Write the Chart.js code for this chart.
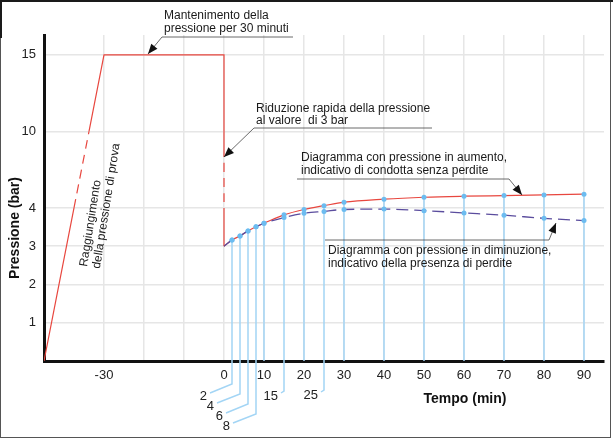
<!DOCTYPE html>
<html>
<head>
<meta charset="utf-8">
<script src="https://cdn.jsdelivr.net/npm/chart.js@4.4.0/dist/chart.umd.min.js"></script>
<style>
  html, body { margin: 0; padding: 0; background: #fff; overflow: hidden; }
  canvas { display: block; }
</style>
</head>
<body>
<canvas id="myChart" width="613" height="438"></canvas>
<script>
"use strict";

// time (min) and pressure (bar)
var times = [0, 2, 4, 6, 8, 10, 15, 20, 25, 30, 40, 50, 60, 70, 80, 90];
var pressureRising = [3, 3.16, 3.27, 3.40, 3.51, 3.60, 3.82, 3.96, 4.18, 4.45, 4.69, 4.84, 4.92, 4.97, 5.02, 5.08];
var pressureFalling = [3, 3.16, 3.27, 3.40, 3.51, 3.60, 3.75, 3.86, 3.91, 3.96, 3.97, 3.93, 3.87, 3.81, 3.73, 3.67];

// ramp to test pressure, 30 min hold, quick drop to 3 bar
var testTimes = [-45, -37.5, -33.75, -30, 0, 0, 0, 0];
var testPressure = [0, 4, 10, 15, 15, 8.7, 4, 3];

var xTickValues = [-30, -20, -10, 0, 10, 20, 30, 40, 50, 60, 70, 80, 90];
var yTickValues = [0, 1, 2, 3, 4, 10, 15];
var dropLabelTimes = [2, 4, 6, 8, 15, 25];

var FONT = "'Liberation Sans', Arial, sans-serif";

// the y axis is squeezed above 4 bar
function toAxis(p) {
  if (p <= 4) return p;
  if (p <= 10) return 4 + (p - 4) / 3;
  return 6 + (p - 10) / 2.5;
}

function pts(xs, ys) {
  return xs.map(function(x, i) { return {x: x, y: toAxis(ys[i]), p: ys[i]}; });
}

function arrowPath(ctx, path) {
  ctx.beginPath();
  ctx.moveTo(path[0][0], path[0][1]);
  for (var i = 1; i < path.length; i++) ctx.lineTo(path[i][0], path[i][1]);
  ctx.stroke();
  var a = path[path.length - 2], b = path[path.length - 1];
  var ang = Math.atan2(b[1] - a[1], b[0] - a[0]);
  ctx.save();
  ctx.translate(b[0], b[1]);
  ctx.rotate(ang);
  ctx.beginPath();
  ctx.moveTo(0, 0);
  ctx.lineTo(-10, -4);
  ctx.lineTo(-10, 4);
  ctx.closePath();
  ctx.fill();
  ctx.restore();
}

var notes = [
  {lines: ["Mantenimento della", "pressione per 30 minuti"], x: 164, y: 18.5, lh: 13,
   path: [[293, 37], [162, 37], [148, 54]]},
  {lines: ["Riduzione rapida della pressione", "al valore  di 3 bar"], x: 256, y: 112, lh: 12,
   path: [[432, 128], [254, 128], [224, 157]]},
  {lines: ["Diagramma con pressione in aumento,", "indicativo di condotta senza perdite"], x: 301, y: 161, lh: 13,
   path: [[297, 179], [509, 179], [522, 195]]},
  {lines: ["Diagramma con pressione in diminuzione,", "indicativo della presenza di perdite"], x: 328, y: 253.5, lh: 13,
   path: [[325, 240], [549, 240], [556, 223]]}
];

// leader offsets below the axis for the small time labels
var dropLeaders = {2: [23, -22, 9], 4: [33, -23, 9], 6: [43, -22, 9], 8: [53, -23, 9], 15: [30, -3, 2], 25: [29, -3, 2]};

var dropLines = {
  id: "dropLines",
  beforeDatasetsDraw: function(chart) {
    var ctx = chart.ctx, xs = chart.scales.x, ys = chart.scales.y;
    var y0 = ys.getPixelForValue(0);
    ctx.save();
    ctx.strokeStyle = "#a3d5f5";
    ctx.lineWidth = 1.5;
    times.forEach(function(t, i) {
      if (t === 0) return;
      var x = xs.getPixelForValue(t);
      var top = ys.getPixelForValue(toAxis(pressureRising[i]));
      var bottom = y0;
      var lead = dropLeaders[t];
      if (lead) bottom = y0 + lead[0];
      ctx.beginPath();
      ctx.moveTo(x, top);
      ctx.lineTo(x, bottom);
      if (lead) ctx.lineTo(x + lead[1], bottom + lead[2]);
      ctx.stroke();
    });
    ctx.restore();
  },
  afterDraw: function(chart) {
    var ctx = chart.ctx, xs = chart.scales.x, ys = chart.scales.y;
    var y0 = ys.getPixelForValue(0);
    ctx.save();
    ctx.fillStyle = "#222";
    ctx.font = "13px " + FONT;
    ctx.textAlign = "right";
    ctx.textBaseline = "middle";
    dropLabelTimes.forEach(function(t) {
      var lead = dropLeaders[t];
      var x = xs.getPixelForValue(t) + lead[1];
      var y = y0 + lead[0] + lead[2];
      ctx.fillText(String(t), x - 3, y + 3);
    });

    // annotations
    ctx.textAlign = "left";
    ctx.textBaseline = "alphabetic";
    ctx.font = "12px " + FONT;
    ctx.fillStyle = "#1a1a1a";
    ctx.strokeStyle = "#444";
    ctx.lineWidth = 0.8;
    notes.forEach(function(n) {
      n.lines.forEach(function(s, k) { ctx.fillText(s, n.x, n.y + k * n.lh); });
      ctx.fillStyle = "#111";
      arrowPath(ctx, n.path);
      ctx.fillStyle = "#1a1a1a";
    });

    // rotated note along the ramp
    ctx.save();
    ctx.translate(87, 267);
    ctx.rotate(-81 * Math.PI / 180);
    ctx.fillText("Raggiungimento", 0, 0);
    ctx.fillText("della pressione di prova", 0, 13);
    ctx.restore();

    // axis titles
    ctx.font = "bold 14px " + FONT;
    ctx.fillStyle = "#111";
    ctx.textAlign = "center";
    ctx.textBaseline = "middle";
    ctx.fillText("Tempo (min)", 465, 399);
    ctx.save();
    ctx.translate(15, 228);
    ctx.rotate(-Math.PI / 2);
    ctx.fillText("Pressione (bar)", 0, 0);
    ctx.restore();

    // frame
    ctx.strokeStyle = "#555";
    ctx.lineWidth = 1;
    ctx.strokeRect(0.5, 0.5, 610, 437);
    ctx.fillStyle = "#1a1a1a";
    ctx.fillRect(0, 0, 613, 2);
    ctx.fillRect(0, 0, 2, 38);
    ctx.restore();
  }
};

var ctx = document.getElementById("myChart");
new Chart(ctx, {
  type: "line",
  data: {
    datasets: [
      {
        label: "Diminuzione",
        data: pts(times, pressureFalling),
        borderColor: "#5b4d9e",
        borderWidth: 1.3,
        borderDash: [12, 6],
        cubicInterpolationMode: "monotone",
        pointRadius: function(c) { return c.raw && c.raw.x === 0 ? 0 : 2.5; },
        pointBackgroundColor: "#6cbcf0",
        pointBorderColor: "#6cbcf0",
        pointBorderWidth: 0,
        order: 0
      },
      {
        label: "Aumento",
        data: pts(times, pressureRising),
        borderColor: "#e8473f",
        borderWidth: 1.2,
        cubicInterpolationMode: "monotone",
        pointRadius: function(c) { return c.raw && c.raw.x === 0 ? 0 : 2.5; },
        pointBackgroundColor: "#6cbcf0",
        pointBorderColor: "#6cbcf0",
        pointBorderWidth: 0,
        order: 1
      },
      {
        label: "Prova",
        data: pts(testTimes, testPressure),
        borderColor: "#e8473f",
        borderWidth: 1.2,
        tension: 0.000001,
        pointRadius: 0,
        segment: {
          borderDash: function(c) {
            return (c.p0DataIndex === 1 || c.p0DataIndex === 5) ? [9, 6] : undefined;
          }
        },
        order: 2
      }
    ]
  },
  options: {
    responsive: false,
    animation: false,
    events: [],
    layout: { padding: { top: 35, right: 9, left: 0, bottom: 0 } },
    plugins: { legend: { display: false }, tooltip: { enabled: false } },
    scales: {
      x: {
        type: "linear",
        min: -45,
        max: 95,
        afterBuildTicks: function(s) { s.ticks = xTickValues.map(function(v) { return {value: v}; }); },
        afterFit: function(s) { s.height = 77; },
        ticks: {
          autoSkip: false,
          maxRotation: 0,
          padding: 7,
          color: "#222",
          font: { size: 13, family: FONT },
          callback: function(v) { return (v === -30 || v >= 0) ? String(v) : ""; }
        },
        grid: { color: "#e6e6e6", lineWidth: 1.5, drawTicks: false },
        border: { display: true, color: "#111", width: 3 }
      },
      y: {
        type: "linear",
        min: 0,
        max: 8.52,
        afterBuildTicks: function(s) { s.ticks = yTickValues.map(function(v) { return {value: toAxis(v), p: v}; }); },
        afterFit: function(s) { s.width = 44; },
        ticks: {
          autoSkip: false,
          padding: 8,
          color: "#222",
          font: { size: 13, family: FONT },
          callback: function(v, i) { var p = yTickValues[i]; return p === 0 ? "" : String(p); }
        },
        grid: { color: "#e6e6e6", lineWidth: 1.5, drawTicks: false },
        border: { display: true, color: "#111", width: 3 }
      }
    }
  },
  plugins: [dropLines]
});
</script>
</body>
</html>
